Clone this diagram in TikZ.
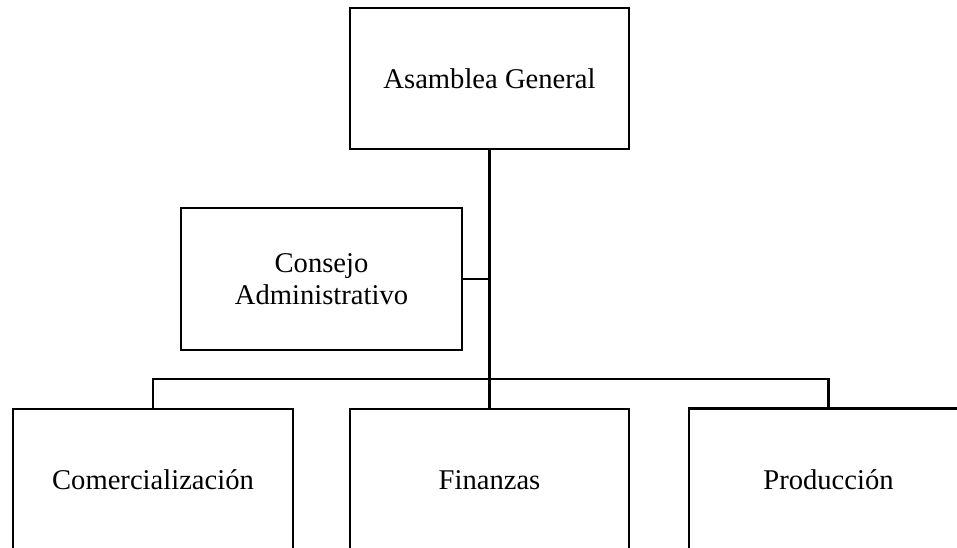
\documentclass[tikz,border=0pt]{standalone}
\usepackage{fontspec}
\setmainfont{Liberation Serif}
\begin{document}
\begin{tikzpicture}[x=1pt,y=-1pt,
  orgbox/.style={draw=black,line width=2.2pt,minimum width=279pt,minimum height=141pt,inner sep=0pt,align=center,font=\fontsize{28.6}{32}\selectfont},
  link/.style={line width=2.2pt}]
\useasboundingbox (0,0) rectangle (957,548);
\clip (0,0) rectangle (957,548);
\fill[white] (0,0) rectangle (957,548);
\node[orgbox] (ag) at (489.5,78.5) {Asamblea General};
\node[orgbox,minimum width=281pt,minimum height=142pt] (cons) at (321.5,279) {Consejo\\Administrativo};
\node[orgbox,minimum width=280pt,minimum height=142pt] (com) at (153,480) {Comercialización};
\node[orgbox,minimum height=142pt] (fin) at (489.5,480) {Finanzas};
\node[orgbox,minimum height=142pt] (prod) at (828.5,479.5) {Producción};
\coordinate (bus) at (489.5,379);
\draw[link] (ag.south) -- (fin.north);
\draw[link] (cons.east) -- (ag.south |- cons.east);
\draw[link] (com.north) |- (bus) -| (prod.north);
\end{tikzpicture}
\end{document}
